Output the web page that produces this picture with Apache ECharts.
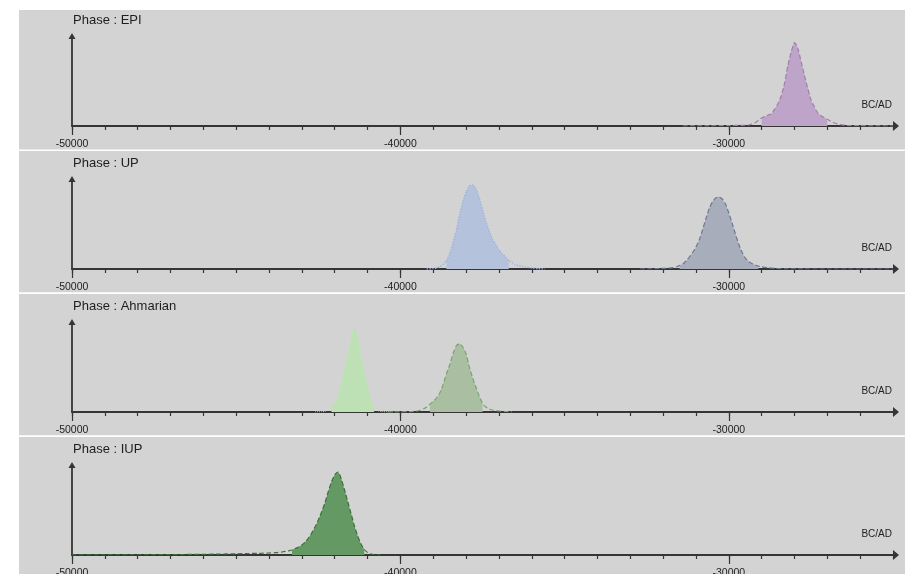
<!DOCTYPE html>
<html>
<head>
<meta charset="utf-8">
<script src="https://cdn.jsdelivr.net/npm/echarts@6/dist/echarts.min.js"></script>
<style>
html,body{margin:0;padding:0;background:#fff;}
#c{width:905px;height:574px;}
</style>
</head>
<body>
<div id="c"></div>
<script>
// ---- Data ----
const phaseNames = ['EPI', 'UP', 'Ahmarian', 'IUP'];
const tickLabels = [-50000, -40000, -30000];
const axisMin = -50000;
const axisMax = -25000;

// EPI
const epiYears = [-31400,-30600,-30000,-29600,-29400,-29300,-29200,-29100,-29000,-28900,-28800,-28700,-28600,-28500,-28400,-28300,-28200,-28100,-28000,-27900,-27800,-27700,-27600,-27500,-27400,-27300,-27200,-27100,-27000,-26900,-26800,-26600,-26400,-26000,-25600,-25000];
const epiProb  = [0,0.2,0.4,0.7,1.0,2.0,3.3,5.5,8,9.5,11,12.2,17,22.5,30.5,43,60.5,74,83.3,78,64.5,51,38,26.5,19.5,13.5,10.5,8.5,6.7,4.8,3.2,1.3,0.6,0.3,0.1,0];
const epiRange = [-29000, -27000];

// UP (first, blue)
const up1Years = [-39200,-39000,-38900,-38800,-38700,-38600,-38500,-38400,-38300,-38200,-38100,-38000,-37900,-37800,-37700,-37600,-37500,-37400,-37300,-37200,-37100,-37000,-36900,-36800,-36700,-36600,-36500,-36400,-36300,-36200,-36000,-35800,-35600];
const up1Prob  = [0,0.4,1.0,2.3,4.5,8,15,26,38,54,67,77,83,84,80,71,59,48,38,30,25,19,15.5,12,8.5,6.5,4.3,3.3,2.5,2,1,0.3,0];
const up1Range = [-38600, -36700];

// UP (second, grey)
const up2Years = [-32700,-32400,-32100,-31900,-31700,-31600,-31500,-31400,-31300,-31200,-31100,-31000,-30900,-30800,-30700,-30600,-30500,-30400,-30300,-30200,-30100,-30000,-29900,-29800,-29700,-29600,-29500,-29400,-29300,-29200,-29100,-29000,-28800,-28600,-28300,-27800,-27000,-26000,-25000];
const up2Prob  = [0,0.2,0.5,0.8,1.3,2,3.5,5,8,12,16.5,22,29,39,50,60,67,71,72,70,65,56,46,35,25,17,11,7.5,5.5,4,3,2.2,1.2,0.6,0.2,0.05,0,0,0];
const up2Range = [-31500, -29100];

// Ahmarian (first, light green)
const ah1Years = [-42600,-42400,-42300,-42200,-42100,-42000,-41900,-41800,-41700,-41600,-41500,-41400,-41300,-41200,-41100,-41000,-40900,-40800,-40700,-40600,-40400,-40200];
const ah1Prob  = [0,0.3,0.8,2,5,9.5,16,27,44,60,74,84,75,55,40,26,13,4.5,1.5,0.6,0.2,0];
const ah1Range = [-42100, -40800];

// Ahmarian (second, olive)
const ah2Years = [-40400,-40000,-39700,-39500,-39400,-39300,-39200,-39100,-39000,-38900,-38800,-38700,-38600,-38500,-38400,-38300,-38200,-38100,-38000,-37900,-37800,-37700,-37600,-37500,-37400,-37300,-37200,-37000,-36800,-36600];
const ah2Prob  = [0,0.2,0.4,1,1.8,3,5,7.8,10.5,14,19,27.5,38,47,58,66,68.3,65,58,45,34,25,16,8.5,5,3.2,2,1,0.5,0];
const ah2Range = [-39100, -37500];

// IUP
const iupYears = [-50000,-49000,-48000,-47000,-46000,-45500,-45000,-44600,-44200,-44000,-43800,-43600,-43400,-43300,-43200,-43100,-43000,-42900,-42800,-42700,-42600,-42500,-42400,-42300,-42200,-42100,-42000,-41900,-41800,-41700,-41600,-41500,-41400,-41300,-41200,-41100,-41000,-40900,-40800,-40600];
const iupProb  = [0.1,0.15,0.25,0.4,0.7,0.9,1.2,1.5,1.8,2.0,2.3,3,4.2,5,6.5,8,10,13,17,22,28,35,43,52,63,73,80,83,76,65,53,41,29,19,11,5.5,2.5,1,0.4,0];
const iupRange = [-43300, -41100];

// ---- Styles ----
const curves = [
  {panel:0, years:epiYears, prob:epiProb, range:epiRange, fill:'#bfa4c9', line:'#9f80ad', type:'dashed', w:1.2},
  {panel:1, years:up1Years, prob:up1Prob, range:up1Range, fill:'#b5c2dc', line:'#9db2e2', type:'dotted', w:1.4},
  {panel:1, years:up2Years, prob:up2Prob, range:up2Range, fill:'#a8adbc', line:'#6f7893', type:'dashed', w:1.2},
  {panel:2, years:ah1Years, prob:ah1Prob, range:ah1Range, fill:'#bde0b4', line:'#c2e6b8', type:'dotted', w:1},
  {panel:2, years:ah2Years, prob:ah2Prob, range:ah2Range, fill:'#aabfa1', line:'#76a66c', type:'dashed', w:1.2},
  {panel:3, years:iupYears, prob:iupProb, range:iupRange, fill:'#659963', line:'#3a7239', type:'dashed', w:1.2}
];

const axisColor = '#353535';
const font = 'Liberation Sans, Arial, sans-serif';
const panelTops = [10, 151, 294, 437];
const panelBottoms = [149.5, 292.3, 435.2, 574];

const grids = [], xAxes = [], xAxes2 = [], yAxes = [], titles = [], series = [], graphics = [];

phaseNames.forEach((name, i) => {
  graphics.push({type:'rect', z:-100, shape:{x:19, y:panelTops[i], width:886, height:panelBottoms[i]-panelTops[i]}, style:{fill:'#d3d3d3'}, silent:true});
  grids.push({left:72, right:12, top:38 + 143*i, height:88, outerBoundsMode:'none', containLabel:false});
  titles.push({text:'Phase : ' + name, left:73, top:14 + 143*i, padding:0,
    textStyle:{fontSize:13, fontWeight:'normal', color:'#1e1e1e', fontFamily:font}});
  xAxes.push({
    type:'value', gridIndex:i, min:axisMin, max:axisMax, interval:1000, position:'bottom',
    axisLine:{show:true, onZero:false, symbol:['none','triangle'], symbolSize:[10,6], symbolOffset:[0,3], lineStyle:{color:axisColor, width:1.8}},
    axisTick:{show:true, length:4, lineStyle:{color:axisColor, width:1.2}},
    axisLabel:{customValues:tickLabels, formatter:(v) => String(v), margin:13, fontSize:10.5, color:'#222', fontFamily:font},
    splitLine:{show:false},
    name:'BC/AD', nameLocation:'end', nameGap:-1,
    nameTextStyle:{align:'right', verticalAlign:'bottom', padding:[0,0,16,0], fontSize:10, color:'#222', fontFamily:font}
  });
  xAxes2.push({
    type:'value', gridIndex:i, min:axisMin, max:axisMax, position:'bottom',
    axisLine:{show:false},
    axisTick:{show:true, length:9, customValues:tickLabels, lineStyle:{color:axisColor, width:1.2}},
    axisLabel:{show:false}, splitLine:{show:false}
  });
  yAxes.push({
    type:'value', gridIndex:i, min:0, max:88,
    axisLine:{show:true, onZero:false, symbol:['none','triangle'], symbolSize:[7,6], symbolOffset:[0,2], lineStyle:{color:axisColor, width:1.8}},
    axisTick:{show:false}, axisLabel:{show:false}, splitLine:{show:false}
  });
});

curves.forEach(c => {
  const pts = c.years.map((y, k) => [y, c.prob[k]]);
  const fillPts = pts.filter(p => p[0] >= c.range[0] && p[0] <= c.range[1]);
  series.push({
    type:'line', xAxisIndex:c.panel, yAxisIndex:c.panel, data:fillPts, showSymbol:false, smooth:0.2,
    lineStyle:{width:0}, areaStyle:{color:c.fill, opacity:1}, z:2, silent:true
  });
  series.push({
    type:'line', xAxisIndex:c.panel, yAxisIndex:c.panel, data:pts, showSymbol:false, smooth:0.2,
    lineStyle:{color:c.line, width:c.w, type:c.type}, z:3, silent:true
  });
});

const chart = echarts.init(document.getElementById('c'), null, {renderer:'canvas'});
chart.setOption({
  backgroundColor:'#ffffff',
  animation:false,
  graphic:graphics,
  title:titles,
  grid:grids,
  xAxis:xAxes.concat(xAxes2),
  yAxis:yAxes,
  series:series
});
</script>
</body>
</html>
